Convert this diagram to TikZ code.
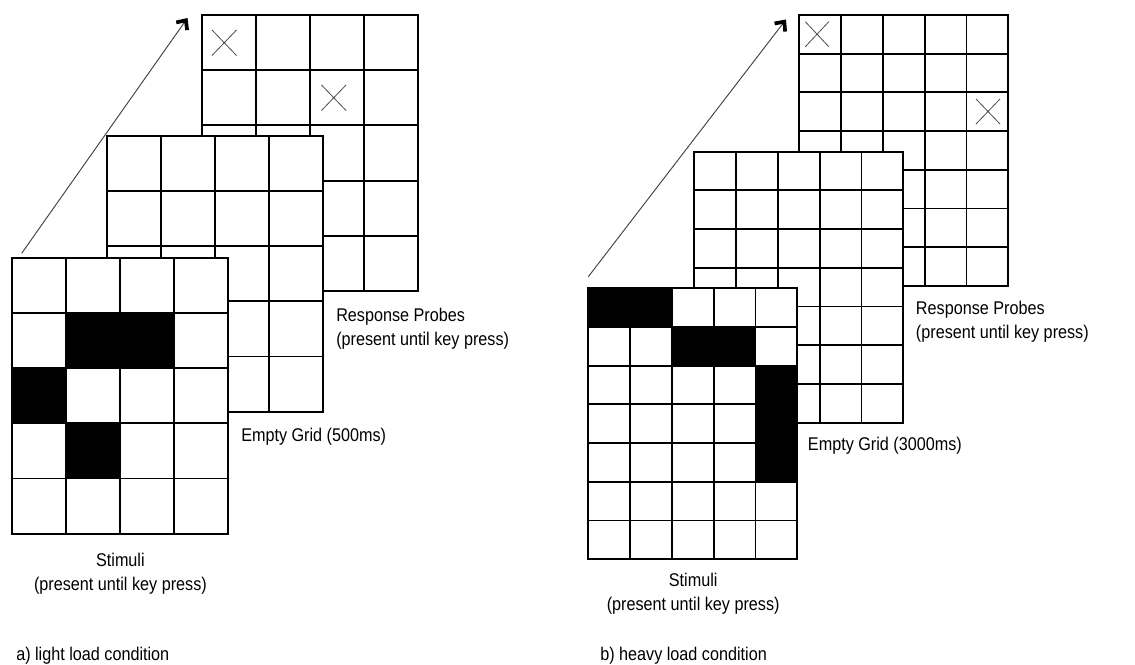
\documentclass[tikz,border=0pt]{standalone}
\usepackage{fontspec}
\setmainfont{Liberation Sans}[FakeStretch=0.88]
\usetikzlibrary{arrows.meta, positioning}

\begin{document}
\begin{tikzpicture}[
    x=0.75pt, y=-0.75pt,
    cell/.style={draw=black, line width=1.4pt},
    probe/.style={draw=black!70, line width=0.6pt},
    cue/.style={font=\fontsize{13.8}{18}\selectfont, text=black,
                inner sep=0pt, align=left, anchor=base west},
    pics/board/.style n args={4}{code={
        \draw[cell, fill=white] (0,0) rectangle (#1*#3, #2*#4);
        \foreach \c in {1,...,#1} \draw[cell] (\c*#3,0) -- (\c*#3,#2*#4);
        \foreach \r in {1,...,#2} \draw[cell] (0,\r*#4) -- (#1*#3,\r*#4);
    }},
    >={Straight Barb[length=5.5pt, width=10pt, line width'=2.8pt, color=black]}
  ]
  \useasboundingbox (0,0) rectangle (1135,664);

  % a) light load: response probes
  \begin{scope}[shift={(201.7,15)}]
    \pic {board={4}{5}{54}{55.2}};
    \draw[probe] (212-201.7,30-15) -- ++(24.5,25.5) (236.5-201.7,30-15) -- ++(-24.5,25.5);
    \draw[probe] (321.5-201.7,85-15) -- ++(24.5,25.5) (346-201.7,85-15) -- ++(-24.5,25.5);
  \end{scope}

  % a) empty grid
  \begin{scope}[shift={(107.3,135.7)}]
    \pic {board={4}{5}{54}{55.2}};
  \end{scope}

  % a) stimuli
  \begin{scope}[shift={(12.3,257.7)}]
    \pic {board={4}{5}{54}{55.2}};
    \fill (54,55.2) rectangle ++(108,55.2);
    \fill (0,110.4) rectangle ++(54,55.2);
    \fill (54,165.6) rectangle ++(54,55.2);
  \end{scope}

  % b) heavy load: response probes
  \begin{scope}[shift={(799.3,15)}]
    \pic {board={5}{7}{41.8}{38.7}};
    \draw[probe] (6,6.7) -- ++(23.5,25) (29.5,6.7) -- ++(-23.5,25);
    \draw[probe] (176.7,84) -- ++(24,25) (200.7,84) -- ++(-24,25);
  \end{scope}

  % b) empty grid
  \begin{scope}[shift={(694.3,151.7)}]
    \pic {board={5}{7}{41.8}{38.7}};
  \end{scope}

  % b) stimuli
  \begin{scope}[shift={(588.3,288.3)}]
    \pic {board={5}{7}{41.8}{38.7}};
    \fill (0,0) rectangle ++(83.6,38.7);
    \fill (83.6,38.7) rectangle ++(83.6,38.7);
    \fill (167.2,77.4) rectangle ++(41.8,116.1);
  \end{scope}

  % Time arrows
  \coordinate (startA) at (21.7,253.3);
  \coordinate (endA) at (187.5,18);
  \coordinate (startB) at (588.3,276.7);
  \coordinate (endB) at (786,19.5);
  \draw[->, draw=black!75, line width=0.7pt] (startA) -- (endA);
  \draw[->, draw=black!75, line width=0.7pt] (startB) -- (endB);

  % Labels (base = last line)
  \node[cue] (probesA) at (336,345.7) {Response Probes\\(present until key press)};
  \node[cue] (emptyA) at (241,441.7) {Empty Grid (500ms)};
  \node[cue, align=center, anchor=base] (stimA) at (120.4,590)
    {Stimuli\\(present until key press)};
  \node[cue] (capA) at (16,660) {a) light load condition};

  \node[cue] (probesB) at (915.7,338.3) {Response Probes\\(present until key press)};
  \node[cue] (emptyB) at (807.7,450) {Empty Grid (3000ms)};
  \node[cue, align=center, anchor=base] (stimB) at (693.2,610.5)
    {Stimuli\\(present until key press)};
  \node[cue] (capB) at (600,660) {b) heavy load condition};

\end{tikzpicture}
\end{document}
